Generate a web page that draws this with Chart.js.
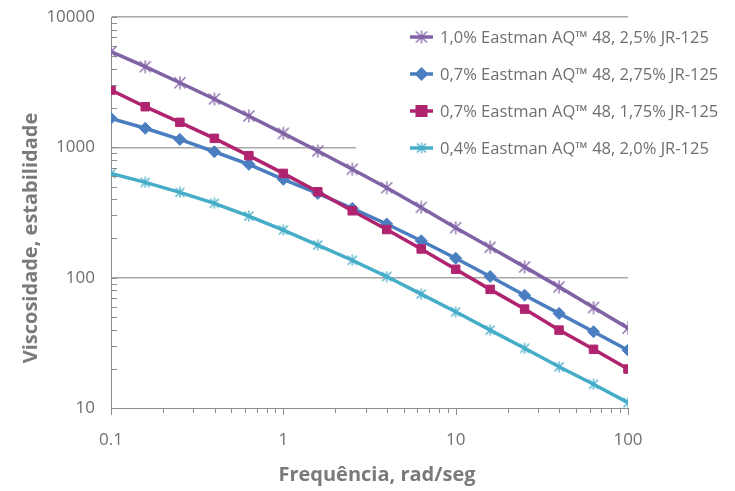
<!DOCTYPE html>
<html>
<head>
<meta charset="utf-8">
<script src="https://cdn.jsdelivr.net/npm/chart.js@4.4.1/dist/chart.umd.min.js"></script>
<style>
  html, body { margin: 0; padding: 0; background: #fff; }
  #wrap { width: 735px; height: 491px; }
</style>
</head>
<body>
<div id="wrap"><canvas id="chart"></canvas></div>
<script>
// frequency points (rad/seg), 5 per decade
const frequencies = [0.1, 0.158, 0.251, 0.398, 0.631, 1, 1.585, 2.512, 3.981, 6.31, 10, 15.85, 25.12, 39.81, 63.1, 100];

const seriesLabels = [
  "1,0% Eastman AQ\u2122 48, 2,5% JR-125",
  "0,7% Eastman AQ\u2122 48, 2,75% JR-125",
  "0,7% Eastman AQ\u2122 48, 1,75% JR-125",
  "0,4% Eastman AQ\u2122 48, 2,0% JR-125"
];

const purpleValues  = [5420, 4160, 3130, 2350, 1740, 1280, 937, 679, 490, 346, 242, 171, 121, 85, 59, 41];
const blueValues    = [1670, 1400, 1150, 925, 741, 568, 443, 340, 258, 192, 141, 102, 73.4, 53.2, 38.5, 27.8];
const magentaValues = [2750, 2050, 1555, 1172, 863, 631, 456, 326, 234, 166, 116, 81.3, 57.4, 39.6, 28.2, 19.9];
const cyanValues    = [631, 538, 451, 372, 297, 232, 178, 136, 102, 74.8, 54.7, 39.6, 28.7, 20.7, 15.2, 11.0];

const xTickLabels = ["0.1", "1", "10", "100"];
const yTickLabels = ["10", "100", "1000", "10000"];

const FONT = "'Open Sans', 'Noto Sans', sans-serif";
const TEXT_GRAY = "#6f6f6f";
const AXIS_GRAY = "#8c8c8c";

function isDecade(v) {
  const l = Math.log10(v);
  return Math.abs(l - Math.round(l)) < 1e-9;
}

function logTicks(min, max) {
  const out = [];
  for (let d = min; d < max * 0.999; d *= 10) {
    for (let k = 1; k <= 9; k++) out.push(+(k * d).toPrecision(6));
  }
  out.push(max);
  return out;
}

// excel-ish star marker: an X with a vertical stroke
function starMarker(color, size) {
  const c = document.createElement("canvas");
  c.width = size; c.height = size;
  const g = c.getContext("2d");
  const m = size / 2, r = size / 2 - 1.5;
  g.strokeStyle = color;
  g.lineWidth = 1.3;
  g.beginPath();
  g.moveTo(m - r, m - r); g.lineTo(m + r, m + r);
  g.moveTo(m + r, m - r); g.lineTo(m - r, m + r);
  g.moveTo(m, 0.5); g.lineTo(m, size - 0.5);
  g.stroke();
  return c;
}

const colors = ["#8063a5", "#4a7ec0", "#b0246f", "#46adc8"];
const styles = [starMarker(colors[0], 14), "rectRot", "rect", starMarker(colors[3], 12)];
const radii = [7, 6, 6, 6];
const valueSets = [purpleValues, blueValues, magentaValues, cyanValues];
const drawOrder = [0, 2, 1, 3];

const datasets = valueSets.map((vals, i) => ({
  label: seriesLabels[i],
  data: frequencies.map((f, j) => ({ x: f, y: vals[j] })),
  borderColor: colors[i],
  backgroundColor: colors[i],
  borderWidth: 3.5,
  pointStyle: styles[i],
  pointRadius: radii[i],
  pointBorderWidth: 1,
  pointBorderColor: colors[i],
  pointBackgroundColor: colors[i],
  tension: 0,
  order: drawOrder[i]
}));

// inward ticks on y, outward ticks on x
const tickMarks = {
  id: "tickMarks",
  afterDraw(chart) {
    const ctx = chart.ctx;
    const xs = chart.scales.x, ys = chart.scales.y;
    const area = chart.chartArea;
    ctx.save();
    ctx.strokeStyle = AXIS_GRAY;
    ctx.lineWidth = 1;
    ys.ticks.forEach(t => {
      const y = Math.round(ys.getPixelForValue(t.value)) + 0.5;
      ctx.beginPath();
      ctx.moveTo(area.left, y);
      ctx.lineTo(area.left + 6, y);
      ctx.stroke();
    });
    xs.ticks.forEach(t => {
      const x = Math.round(xs.getPixelForValue(t.value)) + 0.5;
      ctx.beginPath();
      ctx.moveTo(x, area.bottom);
      ctx.lineTo(x, area.bottom + (isDecade(t.value) ? 7 : 5));
      ctx.stroke();
    });
    ctx.restore();
  }
};

const axisTitles = {
  id: "axisTitles",
  afterDraw(chart) {
    const ctx = chart.ctx;
    ctx.save();
    ctx.fillStyle = "#7a7a7a";
    ctx.font = "bold 20px " + FONT;
    ctx.textAlign = "center";
    ctx.textBaseline = "alphabetic";
    ctx.fillText("Frequência, rad/seg", 377, 481);
    ctx.translate(37, 238);
    ctx.rotate(-Math.PI / 2);
    ctx.fillText("Viscosidade, estabilidade", 0, 0);
    ctx.restore();
  }
};

// legend sits inside the plot on a white box
const insideLegend = {
  id: "insideLegend",
  beforeDatasetsDraw(chart) {
    const ctx = chart.ctx;
    ctx.save();
    ctx.fillStyle = "#ffffff";
    ctx.fillRect(356, 22, 379, 142);
    chart.data.datasets.forEach((ds, i) => {
      const y = 37 + i * 37;
      ctx.strokeStyle = ds.borderColor;
      ctx.lineWidth = 3.5;
      ctx.beginPath();
      ctx.moveTo(410, y);
      ctx.lineTo(433, y);
      ctx.stroke();
      const cx = 421.5;
      ctx.fillStyle = ds.borderColor;
      if (ds.pointStyle === "rect") {
        ctx.fillRect(cx - 6, y - 6, 12, 12);
      } else if (ds.pointStyle === "rectRot") {
        ctx.beginPath();
        ctx.moveTo(cx, y - 7); ctx.lineTo(cx + 7, y);
        ctx.lineTo(cx, y + 7); ctx.lineTo(cx - 7, y);
        ctx.closePath(); ctx.fill();
      } else {
        ctx.drawImage(ds.pointStyle, cx - ds.pointStyle.width / 2, y - ds.pointStyle.height / 2);
      }
      ctx.fillStyle = TEXT_GRAY;
      ctx.font = "16.5px " + FONT;
      ctx.textAlign = "left";
      ctx.textBaseline = "middle";
      ctx.fillText(ds.label, 440, y + 1);
    });
    ctx.restore();
  }
};

new Chart(document.getElementById("chart"), {
  type: "line",
  data: { datasets: datasets },
  options: {
    responsive: true,
    maintainAspectRatio: false,
    animation: false,
    layout: { padding: { left: 0, right: 107, top: 17, bottom: 0 } },
    plugins: { legend: { display: false }, tooltip: { enabled: false } },
    scales: {
      x: {
        type: "logarithmic",
        min: 0.1,
        max: 100,
        afterBuildTicks: s => { s.ticks = logTicks(0.1, 100).map(v => ({ value: v })); },
        afterFit: s => { s.height = 83; s.paddingLeft = 0; s.paddingRight = 0; },
        ticks: {
          autoSkip: false,
          maxRotation: 0,
          padding: 22,
          color: TEXT_GRAY,
          font: { family: FONT, size: 17 },
          callback: v => isDecade(v) ? xTickLabels[Math.round(Math.log10(v)) + 1] : ""
        },
        grid: { display: false, drawTicks: false },
        border: { display: true, color: AXIS_GRAY, width: 1 }
      },
      y: {
        type: "logarithmic",
        min: 10,
        max: 10000,
        afterBuildTicks: s => { s.ticks = logTicks(10, 10000).map(v => ({ value: v })); },
        afterFit: s => { s.width = 111; s.paddingTop = 0; s.paddingBottom = 0; },
        ticks: {
          autoSkip: false,
          padding: 16,
          color: TEXT_GRAY,
          font: { family: FONT, size: 17 },
          callback: v => isDecade(v) ? yTickLabels[Math.round(Math.log10(v)) - 1] : ""
        },
        grid: {
          drawTicks: false,
          lineWidth: 1.5,
          color: c => (c.tick && isDecade(c.tick.value) && c.tick.value > 10) ? "#a8a8a8" : "rgba(0,0,0,0)"
        },
        border: { display: true, color: AXIS_GRAY, width: 1 }
      }
    }
  },
  plugins: [tickMarks, axisTitles, insideLegend]
});
</script>
</body>
</html>
